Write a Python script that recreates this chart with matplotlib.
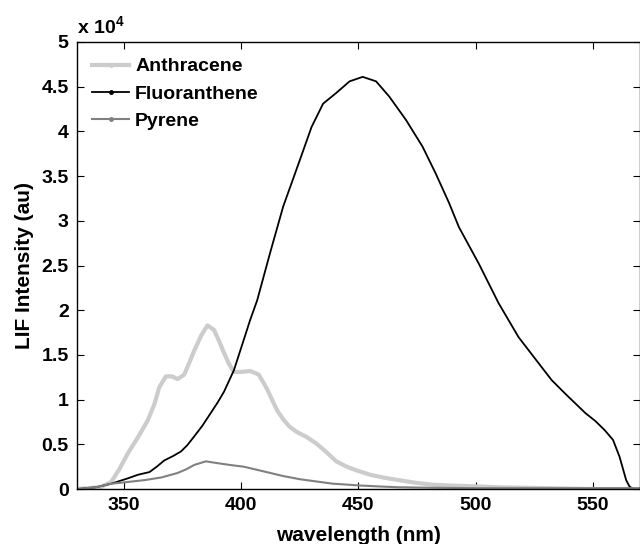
import matplotlib
matplotlib.use('Agg')
import matplotlib.pyplot as plt
from matplotlib.lines import Line2D
from matplotlib.ticker import FormatStrFormatter

plt.rcParams['font.family'] = ['Liberation Sans', 'DejaVu Sans']
plt.rcParams['font.weight'] = 'bold'
plt.rcParams['mathtext.fontset'] = 'custom'
plt.rcParams['mathtext.rm'] = 'Liberation Sans:bold'
plt.rcParams['mathtext.bf'] = 'Liberation Sans:bold'

# intensities in units of 1e4
anth_wl = [330, 340, 344.6, 348, 351.7, 356, 360.2, 363, 365.1, 367.9, 370.5, 372.9,
           375.7, 378, 380, 383, 385.6, 388.4, 390.5, 392.7, 394.8, 396.9, 400, 403.9,
           407.5, 411, 415.3, 417.9, 420.5, 423.6, 428, 432, 436, 440.5, 445, 449, 455,
           460.3, 467, 474.4, 481, 488.6, 500, 509.7, 530, 550, 570]
anth_val = [0.0, 0.02, 0.08, 0.22, 0.40, 0.58, 0.77, 0.95, 1.14, 1.26, 1.26, 1.23,
            1.28, 1.42, 1.55, 1.72, 1.83, 1.78, 1.66, 1.52, 1.40, 1.31, 1.31, 1.32,
            1.28, 1.12, 0.88, 0.78, 0.70, 0.64, 0.58, 0.51, 0.42, 0.31, 0.25, 0.21, 0.16,
            0.13, 0.10, 0.07, 0.05, 0.04, 0.03, 0.02, 0.01, 0.0, 0.0]

fluo_wl = [330, 338, 344.6, 351.7, 356, 360.9, 364, 367.2, 371, 374.3, 377, 380, 383.5,
           387, 390, 392.7, 396.9, 401.1, 403.8, 406.8, 412.3, 417.9, 425, 430, 434.9,
           440.5, 446.2, 451.8, 457.5, 463.1, 470.2, 477.3, 482.9, 488.6, 492.8, 501.3,
           509.7, 518.2, 526.7, 532.3, 538, 546.7, 551, 554.9, 558.5, 561.3, 564.1,
           565.5, 567, 570]
fluo_val = [0.0, 0.02, 0.06, 0.12, 0.16, 0.19, 0.25, 0.32, 0.37, 0.42, 0.49, 0.59, 0.71,
            0.85, 0.97, 1.09, 1.33, 1.67, 1.89, 2.11, 2.64, 3.16, 3.68, 4.05, 4.31,
            4.43, 4.56, 4.61, 4.56, 4.39, 4.13, 3.83, 3.53, 3.20, 2.93, 2.52,
            2.08, 1.70, 1.41, 1.22, 1.07, 0.85, 0.76, 0.66, 0.55, 0.36, 0.10,
            0.03, 0.0, 0.0]

pyr_wl = [330, 338, 344.6, 352, 358.8, 366, 372.9, 376.5, 380, 384.9, 389.8, 395, 401.1,
          406, 412.4, 418, 425, 432, 439, 445, 450.4, 458, 467, 480, 500, 530, 570]
pyr_val = [0.0, 0.02, 0.06, 0.08, 0.10, 0.13, 0.18, 0.22, 0.27, 0.31, 0.29, 0.27, 0.25,
           0.22, 0.18, 0.145, 0.11, 0.085, 0.06, 0.05, 0.04, 0.03, 0.02, 0.015, 0.01, 0.01, 0.01]

names = ['Anthracene', 'Fluoranthene', 'Pyrene']
colors = ['#cccccc', '#000000', '#808080']
widths = [3.0, 1.3, 1.5]

fig = plt.figure(figsize=(6.4, 5.44), dpi=100)
ax = fig.add_axes([0.1203, 0.101, 0.8797, 0.8218])

ax.plot(anth_wl, anth_val, color=colors[0], lw=widths[0])
ax.plot(fluo_wl, fluo_val, color=colors[1], lw=widths[1])
ax.plot(pyr_wl, pyr_val, color=colors[2], lw=widths[2])

ax.set_xlim(330, 570)
ax.set_ylim(0, 5)
ax.set_xticks([350, 400, 450, 500, 550])
ax.set_yticks([0, 0.5, 1, 1.5, 2, 2.5, 3, 3.5, 4, 4.5, 5])
ax.yaxis.set_major_formatter(FormatStrFormatter('%g'))
ax.tick_params(direction='in', length=5, width=0.8, labelsize=14,
               top=True, right=True, pad=6)
for s in ax.spines.values():
    s.set_linewidth(1.0)

ax.set_xlabel('wavelength (nm)', fontsize=15, fontweight='bold')
ax.set_ylabel('LIF Intensity (au)', fontsize=15, fontweight='bold')
ax.xaxis.set_label_coords(0.5, -0.083)
ax.yaxis.set_label_coords(-0.076, 0.5)

ax.text(0.0, 1.008, r'x 10$^{4}$', transform=ax.transAxes, fontsize=14,
        fontweight='bold', ha='left', va='bottom')

handles = [Line2D([], [], color=c, lw=w, marker='.', markersize=5)
           for c, w in zip(colors, widths)]
ax.legend(handles, names, loc='upper left', bbox_to_anchor=(0.003, 0.995),
          frameon=False, prop={'weight': 'bold', 'size': 14},
          handlelength=1.9, handletextpad=0.3, labelspacing=0.5, borderpad=0.2,
          numpoints=1)

fig.savefig('out.png', dpi=100)
